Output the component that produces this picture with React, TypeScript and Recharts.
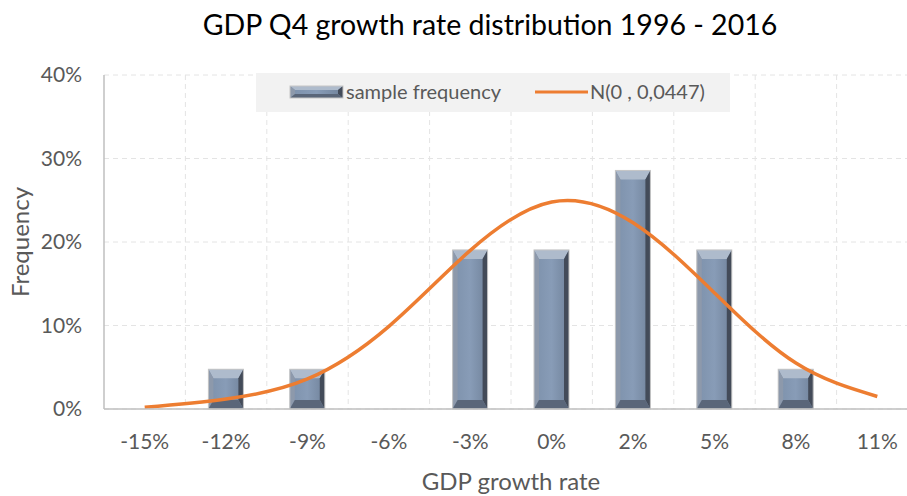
import React from 'react';
import { ComposedChart, Bar, Line, XAxis, YAxis, CartesianGrid } from 'recharts';

const categories = ['-15%', '-12%', '-9%', '-6%', '-3%', '0%', '2%', '5%', '8%', '11%'];
const sampleFrequency = [0, 4.76, 4.76, 0, 19.05, 19.05, 28.57, 19.05, 4.76, 0];
const normalFit = [0.2, 1.2, 3.6, 9.9, 19.0, 24.8, 22.3, 13.9, 5.5, 1.5];
const yTicks = [0, 10, 20, 30, 40];

const data = categories.map((c, i) => ({ cat: c, freq: sampleFrequency[i], normal: normalFit[i] }));

const FONT = 'Lato, "Liberation Sans", sans-serif';
const GREY = '#595959';
const ORANGE = '#ED7D31';

function bevelParts(x: number, y: number, w: number, h: number, bx: number, by: number) {
  return {
    top: `${x},${y} ${x + w},${y} ${x + w - bx},${y + by} ${x + bx},${y + by}`,
    left: `${x},${y} ${x + bx},${y + by} ${x + bx},${y + h - by} ${x},${y + h}`,
    right: `${x + w},${y} ${x + w},${y + h} ${x + w - bx},${y + h - by} ${x + w - bx},${y + by}`,
    bottom: `${x},${y + h} ${x + w},${y + h} ${x + w - bx},${y + h - by} ${x + bx},${y + h - by}`,
  };
}

function BevelRect({ x, y, w, h, bx, by, id }: any) {
  const p = bevelParts(x, y, w, h, bx, by);
  return (
    <g>
      <rect x={x} y={y} width={w} height={h} fill={`url(#face${id})`} />
      <polygon points={p.top} fill="#aebbcc" />
      <polygon points={p.left} fill="#8d99ab" />
      <polygon points={p.right} fill="#434b59" />
      <polygon points={p.bottom} fill="#5a6679" />
      <rect x={x} y={y} width={w} height={h} fill="none" stroke="#c6c6c6" strokeWidth={1} />
    </g>
  );
}

function FaceGradient({ id }: { id: string }) {
  return (
    <defs>
      <linearGradient id={`face${id}`} x1="0" y1="0" x2="1" y2="0">
        <stop offset="0%" stopColor="#7d91ab" />
        <stop offset="50%" stopColor="#889cb7" />
        <stop offset="100%" stopColor="#71839b" />
      </linearGradient>
    </defs>
  );
}

function BevelBar(props: any) {
  const { x, y, width, height } = props;
  if (!height || height <= 0) return null;
  return (
    <g>
      <FaceGradient id="bar" />
      <BevelRect x={x} y={y} w={width} h={height} bx={Math.min(5, width / 4)} by={Math.min(9, height / 3)} id="bar" />
    </g>
  );
}

function LegendBox() {
  return (
    <div
      style={{
        position: 'absolute',
        left: 256,
        top: 73,
        width: 474,
        height: 39,
        background: '#f2f2f2',
        fontFamily: FONT,
        fontSize: 20,
        color: GREY,
      }}
    >
      <svg width={56} height={14} style={{ position: 'absolute', left: 33, top: 12 }}>
        <FaceGradient id="leg" />
        <BevelRect x={1} y={1} w={53} h={12} bx={5} by={4} id="leg" />
      </svg>
      <span style={{ position: 'absolute', left: 90, top: 6, whiteSpace: 'nowrap' }}>sample frequency</span>
      <svg width={56} height={6} style={{ position: 'absolute', left: 278, top: 16 }}>
        <line x1={1} y1={3} x2={54} y2={3} stroke={ORANGE} strokeWidth={3} />
      </svg>
      <span style={{ position: 'absolute', left: 334, top: 6, whiteSpace: 'nowrap' }}>N(0 , 0,0447)</span>
    </div>
  );
}

export default function App() {
  return (
    <div style={{ position: 'absolute', left: 0, top: 0, width: 907, height: 496, overflow: 'hidden', background: '#fff' }}>
      <ComposedChart
        width={920}
        height={496}
        data={data}
        margin={{ top: 75, right: 2, bottom: 0, left: 0 }}
        barSize={35}
      >
        <CartesianGrid
          stroke="#e4e4e4"
          strokeDasharray="5 4"
          verticalCoordinatesGenerator={({ offset }: any) =>
            categories.map((_, i) => offset.left + (offset.width * (i + 1)) / categories.length)
          }
        />
        <XAxis
          dataKey="cat"
          height={87}
          tickSize={0}
          tickMargin={25}
          axisLine={{ stroke: '#bfbfbf', strokeWidth: 1.5 }}
          tick={{ fill: GREY, fontSize: 21, fontFamily: FONT }}
          interval={0}
          label={{ value: 'GDP growth rate', position: 'insideBottom', offset: 6, fill: GREY, fontSize: 24, fontFamily: FONT }}
        />
        <YAxis
          width={104}
          domain={[0, 40]}
          ticks={yTicks}
          tickFormatter={(v: number) => `${v}%`}
          tickSize={0}
          tickMargin={22}
          axisLine={{ stroke: '#bfbfbf', strokeWidth: 1.5 }}
          tick={{ fill: GREY, fontSize: 21, fontFamily: FONT }}
          label={{
            value: 'Frequency',
            angle: -90,
            position: 'insideLeft',
            offset: 20,
            fill: GREY,
            fontSize: 24,
            fontFamily: FONT,
            style: { textAnchor: 'middle' },
          }}
        />
        <Bar dataKey="freq" name="sample frequency" shape={<BevelBar />} isAnimationActive={false} />
        <Line
          dataKey="normal"
          name="N(0 , 0,0447)"
          type="natural"
          stroke={ORANGE}
          strokeWidth={3.5}
          dot={false}
          activeDot={false}
          isAnimationActive={false}
        />
      </ComposedChart>
      <div
        style={{
          position: 'absolute',
          left: 0,
          top: 7,
          width: 980,
          textAlign: 'center',
          fontFamily: FONT,
          fontSize: 28.5,
          color: '#000',
          whiteSpace: 'nowrap',
        }}
      >
        GDP Q4 growth rate distribution 1996 - 2016
      </div>
      <LegendBox />
    </div>
  );
}
